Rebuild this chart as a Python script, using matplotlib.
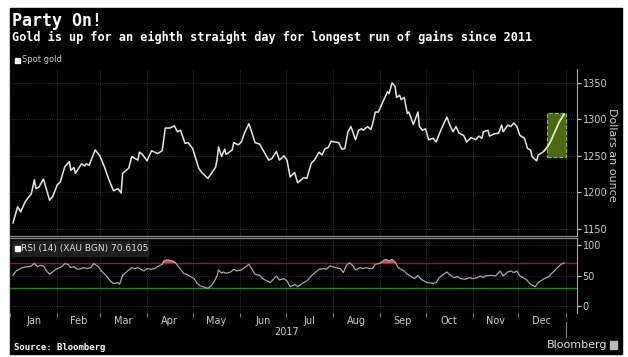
import numpy as np
import matplotlib
matplotlib.use('Agg')
import matplotlib.pyplot as plt
from matplotlib.patches import Rectangle

# Gold spot price (day offset from 2017-01-01, dollars an ounce)
price_day = [2, 5, 7, 10, 14, 16, 17, 19, 22, 26, 28, 31, 33, 36, 39, 40, 42, 43, 47, 49,
             50, 52, 56, 59, 62, 65, 68, 71, 73, 74, 78, 80, 84, 85, 87, 90, 93, 97, 100, 102,
             105, 108, 110, 112, 115, 117, 120, 124, 126, 130, 135, 136, 137, 139, 141, 142, 146, 147, 150, 152,
             154, 157, 159, 161, 164, 167, 170, 172, 175, 177, 180, 182, 184, 187, 189, 193, 195, 198, 200, 203,
             205, 207, 209, 211, 213, 216, 218, 220, 222, 224, 227, 229, 231, 232, 235, 237, 238, 240, 242, 245,
             248, 249, 251, 253, 254, 256, 257, 259, 261, 262, 265, 268, 269, 271, 273, 275, 278, 280, 283, 287,
             289, 291, 293, 295, 298, 300, 303, 306, 308, 310, 311, 314, 315, 318, 321, 323, 324, 327, 329, 331,
             333, 335, 338, 340, 342, 343, 346, 347, 350, 351, 353, 355, 358, 361, 364]
price = [1158, 1180, 1173, 1187, 1198, 1217, 1205, 1207, 1218, 1189, 1194, 1210, 1214, 1235, 1242, 1230, 1234, 1226, 1239, 1236,
         1239, 1237, 1258, 1250, 1235, 1217, 1202, 1205, 1199, 1226, 1233, 1249, 1244, 1255, 1252, 1243, 1257, 1253, 1257, 1288,
         1288, 1291, 1283, 1285, 1267, 1268, 1260, 1233, 1227, 1219, 1234, 1244, 1262, 1249, 1259, 1252, 1258, 1268, 1265, 1269,
         1281, 1294, 1281, 1268, 1266, 1255, 1244, 1246, 1256, 1244, 1250, 1244, 1221, 1227, 1213, 1220, 1219, 1240, 1244, 1255,
         1251, 1260, 1261, 1270, 1269, 1268, 1259, 1260, 1283, 1290, 1272, 1285, 1287, 1285, 1290, 1286, 1292, 1310, 1310, 1324,
         1338, 1335, 1350, 1345, 1330, 1333, 1327, 1330, 1308, 1310, 1293, 1310, 1290, 1285, 1287, 1272, 1274, 1269, 1285, 1303,
         1292, 1283, 1290, 1281, 1278, 1269, 1275, 1272, 1277, 1274, 1283, 1285, 1277, 1280, 1281, 1292, 1283, 1292, 1290, 1295,
         1290, 1278, 1274, 1260, 1258, 1249, 1243, 1251, 1255, 1257, 1262, 1269, 1283, 1297, 1307]

# RSI (14)
rsi_day = [2, 4, 8, 12, 14, 16, 18, 20, 22, 24, 26, 28, 30, 34, 36, 38, 40, 42, 44, 47,
           48, 51, 53, 55, 58, 60, 63, 66, 68, 71, 72, 74, 76, 80, 82, 84, 86, 88, 90, 93,
           95, 97, 100, 101, 103, 105, 107, 109, 110, 112, 114, 116, 118, 121, 123, 125, 128, 130, 132, 134,
           136, 137, 139, 140, 142, 145, 147, 149, 152, 154, 157, 159, 161, 164, 166, 169, 171, 173, 175, 177,
           180, 182, 184, 186, 187, 189, 192, 195, 197, 199, 201, 203, 206, 208, 210, 212, 214, 217, 219, 221,
           223, 225, 227, 230, 232, 234, 236, 238, 240, 243, 245, 247, 249, 251, 253, 255, 257, 259, 261, 263,
           266, 268, 270, 272, 274, 278, 280, 282, 285, 287, 290, 292, 294, 296, 299, 302, 304, 307, 309, 311,
           312, 316, 319, 322, 324, 327, 329, 331, 333, 335, 339, 342, 345, 347, 351, 354, 356, 359, 362, 364]
rsi = [50.3, 57.4, 62.9, 64.5, 65.6, 70, 64.5, 66.7, 65.6, 57.4, 52, 55.8, 60.2, 64.5, 69.5, 68.4, 62.9, 64.5, 60.2, 61.3,
       62.9, 61.3, 62.9, 69.5, 64.5, 57.4, 50.3, 41, 36.7, 38.3, 35.6, 50.3, 54.7, 62.9, 61.3, 62.9, 60.2, 57.4, 61.3, 60.2,
       61.3, 64.5, 68.4, 73.8, 75.5, 74.9, 73.8, 70, 66.7, 60.2, 53.6, 52, 49.2, 44.9, 37, 33, 30.5, 29, 32.8, 39.4,
       49.2, 59.1, 53.6, 55.8, 53.6, 55.8, 60.2, 57.4, 59.1, 62.9, 68.4, 60.2, 52, 50.3, 44.9, 41, 38.3, 43.8, 49.2, 42.7,
       44.9, 41, 31.7, 33.9, 35.6, 31.7, 37.2, 41, 46.5, 52, 55.8, 60.2, 61.3, 60.2, 65.6, 64.5, 62.9, 61.3, 54.7, 66.7,
       71, 66.7, 59.1, 62.9, 61.3, 62.9, 61.3, 61.3, 68.4, 70, 73.8, 76.6, 73.8, 76.6, 72.2, 62.9, 60.2, 57.4, 52, 49.2,
       44.9, 50.3, 43.8, 41, 38.3, 37.2, 38.3, 46.5, 52, 55.8, 49.2, 46.5, 48.1, 44.9, 43.8, 46.5, 44.9, 46.5, 49.2, 46.5,
       49.2, 50.3, 49.2, 57.4, 49.2, 55.8, 57.4, 54.7, 57.4, 49.2, 43.8, 35.6, 31.7, 38.3, 44.9, 48.1, 53.6, 61.3, 68.4, 70.6]

month_names = ['Jan', 'Feb', 'Mar', 'Apr', 'May', 'Jun', 'Jul', 'Aug', 'Sep', 'Oct', 'Nov', 'Dec']
price_ticks = [1150, 1200, 1250, 1300, 1350]
rsi_ticks = [0, 50, 100]
overbought, oversold = 70, 30
# the eight-day run highlighted in green
run_start, run_end = 353, 365
run_low, run_high = 1248, 1308

W, H = 628, 357
def fx(px):
    return px / W
def fy(py):
    return 1 - py / H

price_day = np.array(price_day)
price = np.array(price)
rsi_day = np.array(rsi_day)
rsi = np.array(rsi)

origin = np.datetime64('2017-01-01')
months = np.arange('2017-01', '2018-02', dtype='datetime64[M]').astype('datetime64[D]')
month_start = (months - origin).astype(int)
month_mid = (month_start[:-1] + month_start[1:]) / 2

fig = plt.figure(figsize=(W / 100, H / 100), dpi=100, facecolor='white')
fig.patches.append(Rectangle((fx(10), fy(354)), fx(622) - fx(10), fy(8) - fy(354),
                             transform=fig.transFigure, color='black', zorder=-5))

xlim = (2, 372.5)
grid_kw = dict(color='#404040', lw=0.6, ls=(0, (1, 1.5)))

# price panel
ax1 = fig.add_axes([fx(10), fy(236), fx(577) - fx(10), fy(69) - fy(236)])
ax1.set_facecolor('black')
ax1.plot(price_day, price, color='#e6e6e6', lw=1.1, zorder=3)
ax1.add_patch(Rectangle((run_start, run_low), run_end - run_start, run_high - run_low,
                        facecolor='#4c6a12', edgecolor='#94b83a', ls='--', lw=0.8, zorder=2))
hl = price_day >= run_start - 2
ax1.plot(price_day[hl], price[hl], color='#d6f0b0', lw=1.1, zorder=4)
ax1.set_xlim(*xlim)
ax1.set_ylim(1140, 1369)
ax1.set_yticks(price_ticks)
ax1.set_xticks(month_start)
ax1.tick_params(axis='x', length=0, labelbottom=False)
ax1.yaxis.tick_right()
ax1.tick_params(axis='y', colors='#cccccc', labelsize=7, length=3, pad=1)
ax1.grid(True, **grid_kw)
for s in ['left', 'top']:
    ax1.spines[s].set_visible(False)
ax1.spines['right'].set_color('#aaaaaa')
ax1.spines['bottom'].set_color('#8a8a8a')
ax1.spines['bottom'].set_linewidth(0.9)

# RSI panel
ax2 = fig.add_axes([fx(10), fy(313), fx(577) - fx(10), fy(238) - fy(313)])
ax2.set_facecolor('black')
ax2.axhline(overbought, color='#a81010', lw=1)
ax2.axhline(oversold, color='#1a8a1a', lw=1)
ax2.fill_between(rsi_day, rsi, overbought, where=rsi > overbought, interpolate=True,
                 color='#d05050', lw=0, zorder=2)
ax2.plot(rsi_day, rsi, color='#a8a8a8', lw=0.9, zorder=3)
ax2.set_xlim(*xlim)
ax2.set_ylim(-11.5, 111.5)
ax2.set_yticks(rsi_ticks)
ax2.yaxis.tick_right()
ax2.tick_params(axis='y', colors='#cccccc', labelsize=7, length=3, pad=1)
ax2.set_xticks(month_start)
ax2.set_xticklabels([])
ax2.tick_params(axis='x', which='major', length=3, color='#888888')
ax2.set_xticks(month_mid, minor=True)
ax2.set_xticklabels(month_names, minor=True)
ax2.tick_params(axis='x', which='minor', length=0, labelsize=7, colors='#cccccc', pad=2)
ax2.grid(True, **grid_kw)
for s in ['left', 'bottom']:
    ax2.spines[s].set_visible(False)
ax2.spines['right'].set_color('#aaaaaa')
ax2.spines['top'].set_color('#8a8a8a')
ax2.spines['top'].set_linewidth(0.9)

xt = ax2.get_xaxis_transform()
ax2.text(182, -(332 - 313) / 75, '2017', transform=xt, ha='center', va='center',
         fontsize=7, color='#cccccc')
ax2.plot([month_start[-1]] * 2, [-(322 - 313) / 75, -(337 - 313) / 75], transform=xt,
         clip_on=False, color='#888888', lw=0.8)

# titles and labels
fig.text(fx(12), fy(12), 'Party On!', fontfamily='DejaVu Sans Mono', fontweight='bold',
         fontsize=12, color='white', va='top')
fig.text(fx(12), fy(31), 'Gold is up for an eighth straight day for longest run of gains since 2011',
         fontfamily='DejaVu Sans Mono', fontweight='bold', fontsize=8.6, color='white', va='top')

fig.patches.append(Rectangle((fx(15), fy(62.5)), fx(5), fx(5) * W / H, transform=fig.transFigure,
                             color='white'))
fig.text(fx(22), fy(60), 'Spot gold', fontsize=6, color='#cccccc', va='center')

fig.patches.append(Rectangle((fx(12), fy(256)), fx(136), 15 / H, transform=fig.transFigure,
                             color='#1e1e1e', zorder=5))
fig.patches.append(Rectangle((fx(15), fy(251)), fx(5), 5 / H, transform=fig.transFigure,
                             color='white', zorder=6))
fig.text(fx(21), fy(248.5), 'RSI (14) (XAU BGN) 70.6105', fontsize=6.5, color='#dddddd',
         va='center', zorder=7)

fig.text(fx(612), fy(155), 'Dollars an ounce', rotation=270, fontsize=8, color='#cccccc',
         ha='center', va='center')

fig.text(fx(14), fy(347), 'Source: Bloomberg', fontfamily='DejaVu Sans Mono', fontweight='bold',
         fontsize=6.5, color='white', va='center')
fig.text(fx(607), fy(345), 'Bloomberg', fontsize=8, color='#e0e0e0', ha='right', va='center')
fig.patches.append(Rectangle((fx(610), fy(349)), fx(7), 8 / H, transform=fig.transFigure,
                             color='#bbbbbb'))

fig.savefig('out.png', dpi=100, facecolor='white')
